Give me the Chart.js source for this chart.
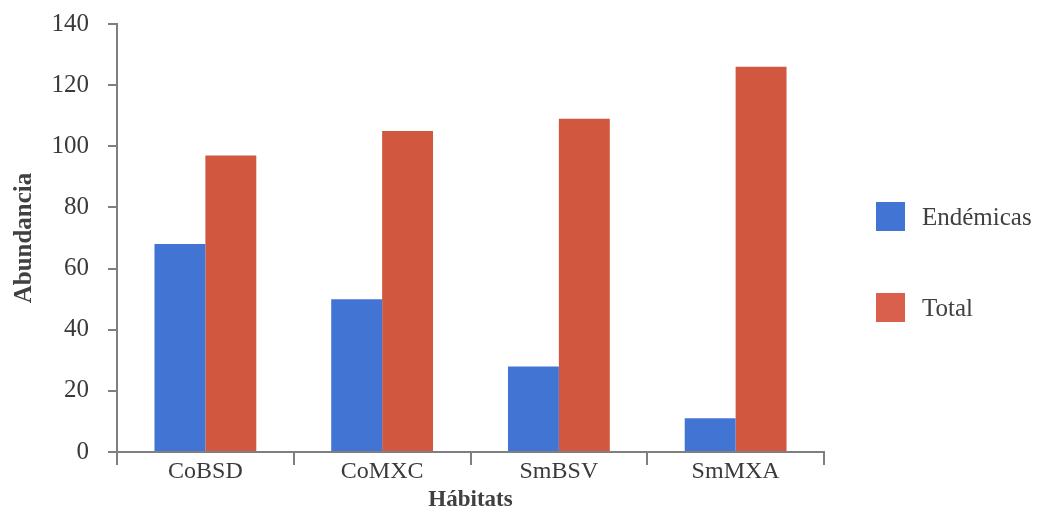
<!DOCTYPE html>
<html>
<head>
<meta charset="utf-8">
<script src="https://cdn.jsdelivr.net/npm/chart.js@4"></script>
<style>
  html, body { margin: 0; padding: 0; background: #fff; }
  #wrap { width: 1043px; height: 508px; }
</style>
</head>
<body>
<div id="wrap"><canvas id="habitatChart" width="1043" height="508"></canvas></div>
<script>
// Data
const habitats = ['CoBSD', 'CoMXC', 'SmBSV', 'SmMXA'];
const endemicas = [68, 50, 28, 11];
const total = [97, 105, 109, 126];
const yTicks = [0, 20, 40, 60, 80, 100, 120, 140];

const FONT = '"Liberation Serif", "DejaVu Serif", serif';
const AXIS_COLOR = '#7f7f7f';

// Legend on the right, drawn next to the plot
const sideLegend = {
    id: 'sideLegend',
    afterDraw(chart) {
        const ctx = chart.ctx;
        const colors = ['#4275d3', '#d9604c'];
        ctx.save();
        ctx.font = '25px ' + FONT;
        ctx.textBaseline = 'middle';
        chart.data.datasets.forEach((ds, i) => {
            const top = 202 + i * 91;
            ctx.fillStyle = colors[i];
            ctx.fillRect(876, top, 29, 29);
            ctx.fillStyle = '#404040';
            ctx.fillText(ds.label, 922, top + 16);
        });
        ctx.restore();
    }
};

const ctx = document.getElementById('habitatChart').getContext('2d');

new Chart(ctx, {
    type: 'bar',
    data: {
        labels: habitats,
        datasets: [{
            label: 'Endémicas',
            data: endemicas,
            backgroundColor: '#4275d3'
        }, {
            label: 'Total',
            data: total,
            backgroundColor: '#d1573f'
        }]
    },
    options: {
        responsive: false,
        animation: false,
        layout: {
            padding: { top: 24, right: 219, left: 0, bottom: 0 }
        },
        datasets: {
            bar: {
                categoryPercentage: 0.576,
                barPercentage: 1.0
            }
        },
        scales: {
            x: {
                offset: true,
                afterFit: (scale) => { scale.height = 56; },
                grid: {
                    offset: true,
                    drawOnChartArea: false,
                    drawTicks: true,
                    tickLength: 13,
                    color: AXIS_COLOR,
                    lineWidth: 2
                },
                border: { color: AXIS_COLOR, width: 2 },
                ticks: {
                    color: '#3a3a3a',
                    padding: -8,
                    font: { family: FONT, size: 24 }
                },
                title: {
                    display: true,
                    text: 'Hábitats',
                    color: '#404040',
                    padding: { top: 0, bottom: -6 },
                    font: { family: FONT, size: 23, weight: 'bold' }
                }
            },
            y: {
                min: 0,
                max: 140,
                afterFit: (scale) => {
                    scale.width = 117;
                    scale.paddingTop = 0;
                    scale.paddingBottom = 0;
                },
                afterBuildTicks: (scale) => {
                    scale.ticks = yTicks.map(v => ({ value: v }));
                },
                grid: {
                    drawOnChartArea: false,
                    drawTicks: true,
                    tickLength: 9,
                    color: AXIS_COLOR,
                    lineWidth: 2
                },
                border: { color: AXIS_COLOR, width: 2 },
                ticks: {
                    color: '#3a3a3a',
                    padding: 19,
                    font: { family: FONT, size: 25 }
                },
                title: {
                    display: true,
                    text: 'Abundancia',
                    color: '#404040',
                    padding: { top: 10, bottom: 0 },
                    font: { family: FONT, size: 25, weight: 'bold' }
                }
            }
        },
        plugins: {
            legend: { display: false },
            tooltip: { enabled: false }
        }
    },
    plugins: [sideLegend]
});
</script>
</body>
</html>
